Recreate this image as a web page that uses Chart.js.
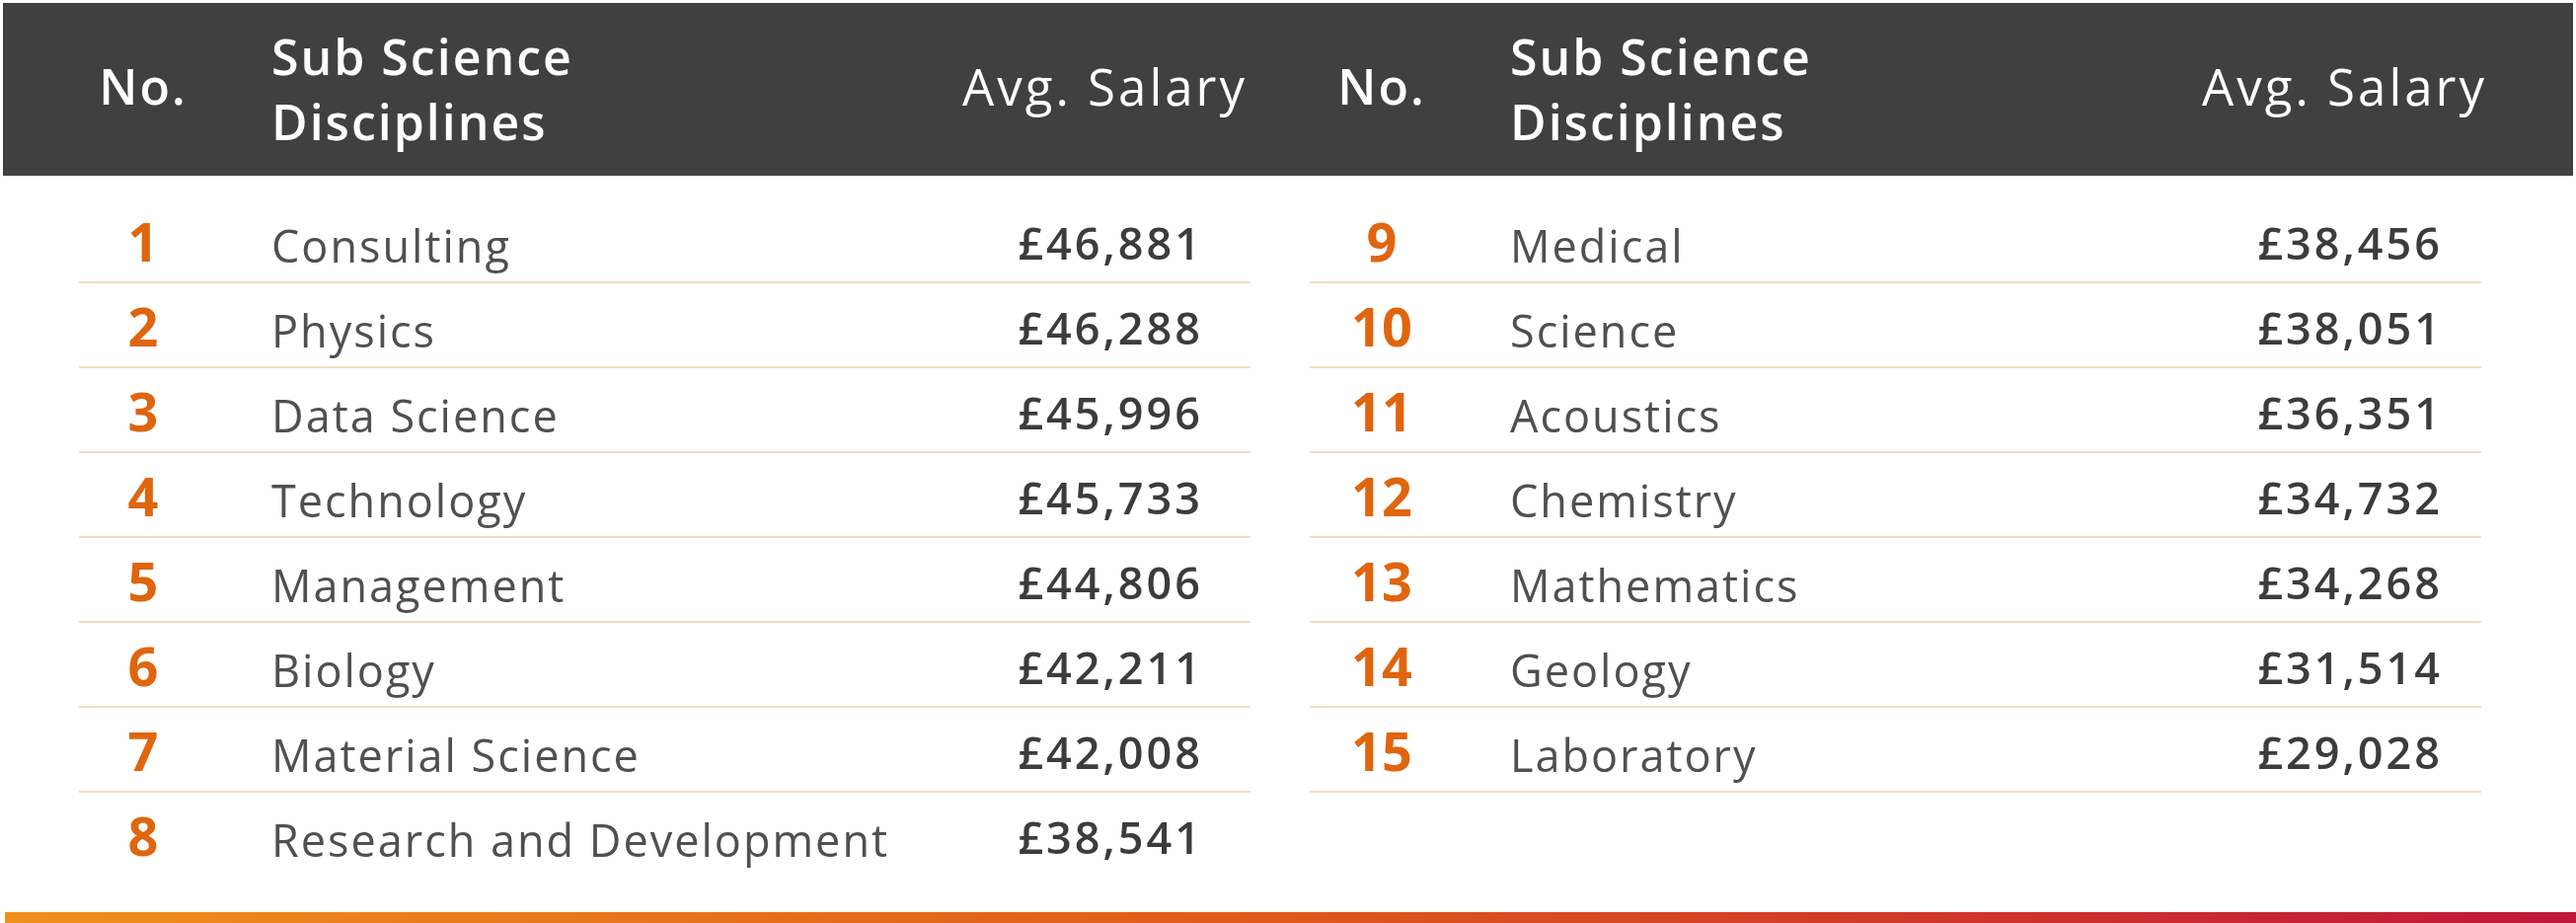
<!DOCTYPE html>
<html>
<head>
<meta charset="utf-8">
<script src="https://cdn.jsdelivr.net/npm/chart.js@4/dist/chart.umd.min.js"></script>
<style>
  html, body { margin: 0; padding: 0; background: #fff; }
  #wrap { width: 2610px; height: 935px; position: relative; }
</style>
</head>
<body>
<div id="wrap"><canvas id="tbl"></canvas></div>
<script>
'use strict';

const RANKS_LEFT = [1, 2, 3, 4, 5, 6, 7, 8];
const NAMES_LEFT = ['Consulting', 'Physics', 'Data Science', 'Technology', 'Management', 'Biology', 'Material Science', 'Research and Development'];
const SALARY_LEFT = ['£46,881', '£46,288', '£45,996', '£45,733', '£44,806', '£42,211', '£42,008', '£38,541'];

const RANKS_RIGHT = [9, 10, 11, 12, 13, 14, 15];
const NAMES_RIGHT = ['Medical', 'Science', 'Acoustics', 'Chemistry', 'Mathematics', 'Geology', 'Laboratory'];
const SALARY_RIGHT = ['£38,456', '£38,051', '£36,351', '£34,732', '£34,268', '£31,514', '£29,028'];

const HEADERS = ['No.', 'Sub Science\nDisciplines', 'Avg. Salary'];

const FONT = '"Open Sans", Lato, sans-serif';
const ORANGE = '#e0650f';
const TEXT = '#505050';
const LINE = '#f3dcc4';

// column positions in the 2610 x 935 coordinate space of the scales
const COLS = [
  { no: 145, name: 275, sal: 1216, lineFrom: 80, lineTo: 1267, ranks: RANKS_LEFT, names: NAMES_LEFT, sals: SALARY_LEFT, lastLine: false },
  { no: 1400, name: 1530, sal: 2472, lineFrom: 1327, lineTo: 2514, ranks: RANKS_RIGHT, names: NAMES_RIGHT, sals: SALARY_RIGHT, lastLine: true }
];
const ROW0 = 250;
const ROW_H = 86;

const tablePlugin = {
  id: 'tablePlugin',
  beforeDraw(chart) {
    const { ctx, scales: { x, y } } = chart;
    const px = v => x.getPixelForValue(v);
    const py = v => y.getPixelForValue(v);
    ctx.save();

    // header band
    ctx.fillStyle = '#404040';
    ctx.fillRect(px(3), py(3), px(2607) - px(3), py(178) - py(3));

    ctx.fillStyle = '#ffffff';
    ctx.textBaseline = 'middle';
    COLS.forEach(c => {
      ctx.letterSpacing = '2px';
      ctx.font = `600 50px ${FONT}`;
      ctx.textAlign = 'center';
      ctx.fillText(HEADERS[0], px(c.no), py(92));
      ctx.textAlign = 'left';
      const parts = HEADERS[1].split('\n');
      ctx.fillText(parts[0], px(c.name), py(62));
      ctx.fillText(parts[1], px(c.name), py(128));
      ctx.letterSpacing = '3px';
      ctx.font = `400 51px ${FONT}`;
      ctx.textAlign = 'right';
      ctx.fillText(HEADERS[2], px(c.sal + 48), py(92));
    });

    // rows
    COLS.forEach(c => {
      c.ranks.forEach((r, i) => {
        const cy = ROW0 + i * ROW_H;
        ctx.letterSpacing = '0px';
        ctx.font = `700 54px ${FONT}`;
        ctx.fillStyle = ORANGE;
        ctx.textAlign = 'center';
        ctx.fillText(String(r), px(c.no), py(cy));
        ctx.letterSpacing = '2px';
        ctx.font = `400 45px ${FONT}`;
        ctx.fillStyle = TEXT;
        ctx.textAlign = 'left';
        ctx.fillText(c.names[i], px(c.name), py(cy + 3));
        ctx.letterSpacing = '3px';
        ctx.font = `600 45px ${FONT}`;
        ctx.fillStyle = '#3c3c3c';
        ctx.textAlign = 'right';
        ctx.fillText(c.sals[i], px(c.sal + 3), py(cy));
        if (i < c.ranks.length - 1 || c.lastLine) {
          ctx.strokeStyle = LINE;
          ctx.lineWidth = 2;
          ctx.beginPath();
          ctx.moveTo(px(c.lineFrom), py(cy + 36));
          ctx.lineTo(px(c.lineTo), py(cy + 36));
          ctx.stroke();
        }
      });
    });

    // bottom gradient strip
    const g = ctx.createLinearGradient(px(0), 0, px(2610), 0);
    g.addColorStop(0, '#f0901c');
    g.addColorStop(0.5, '#e0581a');
    g.addColorStop(1, '#c0163a');
    ctx.fillStyle = g;
    ctx.fillRect(px(5), py(924), px(2610) - px(5), py(935) - py(924));
    ctx.restore();
  }
};

document.addEventListener('DOMContentLoaded', () => {
  new Chart(document.getElementById('tbl'), {
    type: 'scatter',
    data: { datasets: [{ data: [], pointRadius: 0 }] },
    options: {
      responsive: true,
      maintainAspectRatio: false,
      animation: false,
      layout: { padding: 0 },
      plugins: { legend: { display: false }, tooltip: { enabled: false } },
      scales: {
        x: { type: 'linear', min: 0, max: 2610, display: false },
        y: { type: 'linear', min: 0, max: 935, reverse: true, display: false }
      }
    },
    plugins: [tablePlugin]
  });
});
</script>
</body>
</html>
